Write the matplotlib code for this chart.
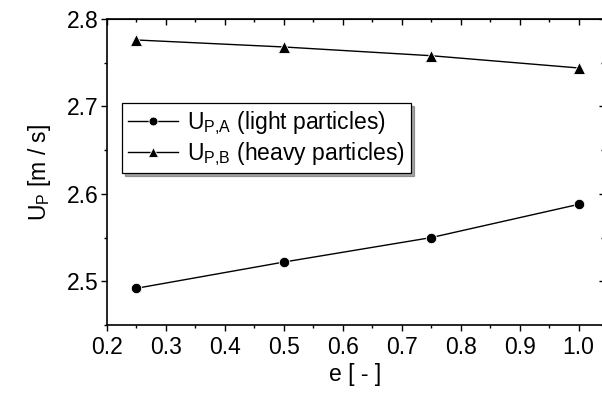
import matplotlib
matplotlib.use('Agg')
import matplotlib.pyplot as plt
from matplotlib.ticker import MultipleLocator

plt.rcParams['font.family'] = ['Liberation Sans', 'DejaVu Sans']
plt.rcParams['mathtext.default'] = 'regular'

# Data
e_values = [0.25, 0.5, 0.75, 1.0]
u_light = [2.492, 2.522, 2.550, 2.588]
u_heavy = [2.776, 2.768, 2.758, 2.744]

fig = plt.figure(figsize=(6.02, 3.96), dpi=100)
ax = fig.add_axes([107 / 602, 1 - 325 / 396, 497 / 602, 306 / 396])

ax.plot(e_values, u_light, color='black', lw=1.0, marker='o', markersize=7.5,
        markeredgecolor='white', markeredgewidth=0.6,
        label=r'U$_{P{,}A}$ (light particles)')
ax.plot(e_values, u_heavy, color='black', lw=1.0, marker='^', markersize=8.5,
        markeredgecolor='white', markeredgewidth=0.6,
        label=r'U$_{P{,}B}$ (heavy particles)')

ax.set_xlim(0.2, 1.043)
ax.set_ylim(2.45, 2.8)
ax.xaxis.set_minor_locator(MultipleLocator(0.05))
ax.yaxis.set_minor_locator(MultipleLocator(0.05))
ax.set_xticks([0.2, 0.3, 0.4, 0.5, 0.6, 0.7, 0.8, 0.9, 1.0])
ax.set_xticklabels(['0.2', '0.3', '0.4', '0.5', '0.6', '0.7', '0.8', '0.9', '1.0'])
ax.set_yticks([2.5, 2.6, 2.7, 2.8])
ax.set_yticklabels(['2.5', '2.6', '2.7', '2.8'])

for s in ax.spines.values():
    s.set_linewidth(1.2)

ax.tick_params(which='both', direction='out', labelsize=16.5, width=1.0,
               top=False, right=False)
ax.tick_params(which='major', length=4)
ax.tick_params(axis='x', which='major', pad=4)
ax.tick_params(axis='y', which='major', pad=2)
ax.tick_params(which='minor', length=2.5)

# mirrored ticks pointing inward on top and right
top = ax.secondary_xaxis('top')
top.xaxis.set_major_locator(MultipleLocator(0.1))
top.xaxis.set_minor_locator(MultipleLocator(0.05))
top.tick_params(which='both', direction='in', labeltop=False, width=1.0)
top.tick_params(which='major', length=4.5)
top.tick_params(which='minor', length=2.5)
right = ax.secondary_yaxis('right')
right.yaxis.set_major_locator(MultipleLocator(0.1))
right.yaxis.set_minor_locator(MultipleLocator(0.05))
right.tick_params(which='both', direction='in', labelright=False, width=1.0)

ax.set_xlabel('e [ - ]', fontsize=16.5, labelpad=3)
ax.set_ylabel(r'U$_{P}$ [m / s]', fontsize=16.5, labelpad=10)

leg = ax.legend(loc='upper left', bbox_to_anchor=(15 / 497, 222 / 306), fontsize=16.5,
                frameon=True, fancybox=False, shadow=True, edgecolor='black',
                handlelength=2.2, handletextpad=0.4, markerscale=0.85,
                borderpad=0.25, labelspacing=0.15, borderaxespad=0)
leg.get_frame().set_linewidth(0.9)

fig.savefig('out.png', dpi=100)
